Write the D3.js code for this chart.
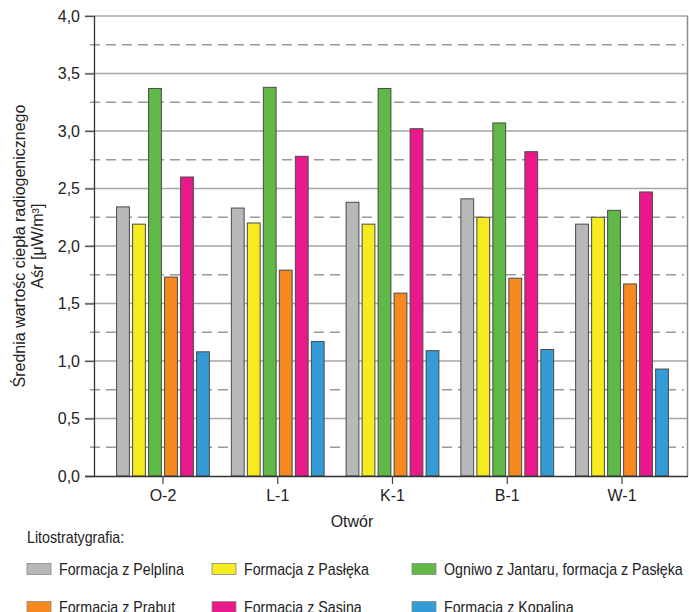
<!DOCTYPE html>
<meta charset="utf-8">
<style>
body { margin: 0; background: #fff; }
svg { font-family: "Liberation Sans", Arial, sans-serif; }
.grid-major { stroke: #a6a6a6; stroke-width: 1.5; }
.grid-minor { stroke: #9a9a9a; stroke-width: 1.3; stroke-dasharray: 10,6; }
.bar { stroke: #4a4a4a; stroke-width: 1; }
</style>
<svg width="689" height="612"></svg>
<script src="https://d3js.org/d3.v7.min.js"></script>
<script>

var categories = ["O-2", "L-1", "K-1", "B-1", "W-1"];
var seriesNames = ["Formacja z Pelplina", "Formacja z Pasłęka", "Ogniwo z Jantaru, formacja z Pasłęka",
                   "Formacja z Prabut", "Formacja z Sasina", "Formacja z Kopalina"];
var seriesColors = ["#b6b8ba", "#f6eb1f", "#60b946", "#f68a20", "#e9188b", "#349bd7"];

var pelplina = [2.34, 2.33, 2.38, 2.41, 2.19];
var pasleka  = [2.19, 2.20, 2.19, 2.25, 2.25];
var jantar   = [3.37, 3.38, 3.37, 3.07, 2.31];
var prabut   = [1.73, 1.79, 1.59, 1.72, 1.67];
var sasina   = [2.60, 2.78, 3.02, 2.82, 2.47];
var kopalina = [1.08, 1.17, 1.09, 1.10, 0.93];

var majorTicks = [0, 0.5, 1, 1.5, 2, 2.5, 3, 3.5, 4];
var minorTicks = [0.25, 0.75, 1.25, 1.75, 2.25, 2.75, 3.25, 3.75];

var allSeries = [pelplina, pasleka, jantar, prabut, sasina, kopalina];

var svg = d3.select("svg"),
    margin = {top: 16, right: 1, bottom: 136, left: 94},
    width = +svg.attr("width") - margin.left - margin.right,
    height = +svg.attr("height") - margin.top - margin.bottom;

var g = svg.append("g")
    .attr("transform", "translate(" + margin.left + "," + margin.top + ")");

var y = d3.scaleLinear().domain([0, 4]).range([height, 0]);
var x0 = d3.scaleBand().domain(categories).range([11.6, 585.4]);
var x1 = d3.scaleBand().domain(seriesNames).range([0, 92.8]).paddingInner(0.2);

var fmt = function(d) { return d3.format(".1f")(d).replace(".", ","); };

// grid lines
g.selectAll("line.grid-minor")
  .data(minorTicks)
  .enter().append("line")
  .attr("class", "grid-minor")
  .attr("x1", -4).attr("x2", width - 4)
  .attr("y1", function(d) { return y(d); })
  .attr("y2", function(d) { return y(d); });

g.selectAll("line.grid-major")
  .data(majorTicks.slice(1))
  .enter().append("line")
  .attr("class", "grid-major")
  .attr("x1", -9).attr("x2", width)
  .attr("y1", function(d) { return y(d); })
  .attr("y2", function(d) { return y(d); });

// right border
g.append("line")
  .attr("x1", width - 0.5).attr("x2", width - 0.5)
  .attr("y1", 0).attr("y2", height)
  .attr("stroke", "#8c8c8c").attr("stroke-width", 1.5);

// bars
var groups = g.append("g").selectAll("g")
  .data(categories)
  .enter().append("g")
  .attr("transform", function(d) {
      return "translate(" + (x0(d) + (x0.bandwidth() - 92.8) / 2) + ",0)";
  });

groups.selectAll("rect")
  .data(function(c, ci) {
      return seriesNames.map(function(s, si) { return {name: s, value: allSeries[si][ci], color: seriesColors[si]}; });
  })
  .enter().append("rect")
  .attr("class", "bar")
  .attr("x", function(d) { return x1(d.name); })
  .attr("y", function(d) { return y(d.value); })
  .attr("width", x1.bandwidth())
  .attr("height", function(d) { return height - y(d.value); })
  .attr("fill", function(d) { return d.color; });

// axes
var yAxis = g.append("g")
  .call(d3.axisLeft(y).tickValues(majorTicks).tickSize(9).tickFormat(fmt));
yAxis.select(".domain").attr("stroke", "#333").attr("stroke-width", 1.3).attr("d", "M0.5," + height + "V0");
yAxis.selectAll(".tick line").attr("stroke", "#555").attr("stroke-width", 1.3);
yAxis.selectAll(".tick text")
  .attr("x", -14)
  .attr("fill", "#222")
  .style("font-size", "16px");

var xAxis = g.append("g")
  .attr("transform", "translate(0," + height + ")")
  .call(d3.axisBottom(x0).tickSize(8).tickSizeOuter(0));
xAxis.select(".domain").attr("stroke", "#333").attr("stroke-width", 1.3).attr("d", "M-9,0.5H" + width);
xAxis.selectAll(".tick line").attr("stroke", "#444").attr("stroke-width", 1.2);
xAxis.selectAll(".tick text")
  .attr("y", 14)
  .attr("fill", "#222")
  .style("font-size", "16px");

// axis titles
svg.append("text")
  .attr("x", 352).attr("y", 527)
  .attr("text-anchor", "middle")
  .attr("fill", "#222")
  .style("font-size", "16px")
  .text("Otwór");

var yTitle = svg.append("text")
  .attr("transform", "translate(0," + (margin.top + height / 2) + ") rotate(-90)")
  .attr("text-anchor", "middle")
  .attr("fill", "#222")
  .style("font-size", "16px");
yTitle.append("tspan").attr("x", 0).attr("y", 25).text("Średnia wartośc ciepła radiogenicznego");
yTitle.append("tspan").attr("x", 0).attr("y", 43).text("Aśr [μW/m³]");

// legend
svg.append("text")
  .attr("transform", "translate(27,543) scale(0.89,1)")
  .attr("fill", "#222")
  .style("font-size", "16px")
  .text("Litostratygrafia:");

var legendX = [27, 212, 412];
var legendY = [569, 607];

var legend = svg.append("g").selectAll("g")
  .data(seriesNames)
  .enter().append("g")
  .attr("transform", function(d, i) {
      return "translate(" + legendX[i % 3] + "," + legendY[Math.floor(i / 3)] + ")";
  });

legend.append("rect")
  .attr("x", 0).attr("y", -5.5)
  .attr("width", 24).attr("height", 11)
  .attr("fill", function(d, i) { return seriesColors[i]; })
  .attr("stroke", "#888").attr("stroke-width", 0.8);

legend.append("text")
  .attr("transform", "translate(32,6) scale(0.89,1)")
  .attr("fill", "#222")
  .style("font-size", "16px")
  .text(function(d) { return d; });

</script>
